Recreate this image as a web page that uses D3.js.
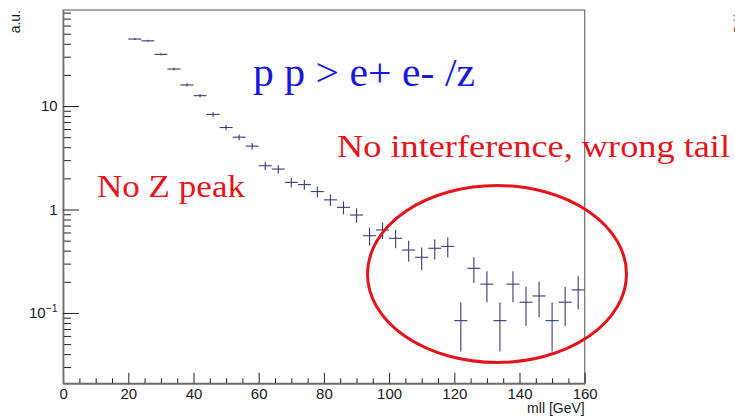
<!DOCTYPE html>
<html>
<head>
<meta charset="utf-8">
<script src="https://cdn.jsdelivr.net/npm/d3@7"></script>
<style>
  html, body { margin: 0; padding: 0; background: #fff; }
  svg { display: block; }
</style>
</head>
<body>
<svg id="chart" width="735" height="418"></svg>
<script>
// Dilepton invariant mass spectrum, 4 GeV bins from 20 to 160 GeV
const binLow = [20, 24, 28, 32, 36, 40, 44, 48, 52, 56, 60, 64, 68, 72, 76, 80, 84, 88,
                92, 96, 100, 104, 108, 112, 116, 120, 124, 128, 132, 136, 140, 144, 148, 152, 156];
const binWidth = 4;
const counts = [44.4, 42.7, 31.6, 22.8, 16.0, 12.6, 8.3, 6.2, 5.0, 4.1, 2.65, 2.46, 1.83, 1.74,
                1.49, 1.24, 1.05, 0.885, 0.558, 0.634, 0.527, 0.406, 0.345, 0.422, 0.44,
                0.0843, 0.27, 0.19, 0.0843, 0.19, 0.127, 0.146, 0.0843, 0.127, 0.167];
const errors = [0.97, 0.95, 0.81, 0.69, 0.58, 0.51, 0.42, 0.36, 0.32, 0.29, 0.24, 0.23, 0.20, 0.19,
                0.18, 0.16, 0.15, 0.14, 0.11, 0.115, 0.105, 0.092, 0.085, 0.094, 0.096,
                0.042, 0.075, 0.063, 0.042, 0.063, 0.052, 0.055, 0.042, 0.052, 0.059];

const xMajorTicks = [0, 20, 40, 60, 80, 100, 120, 140, 160];
const yMajorTicks = [0.1, 1, 10];
const yMajorLabels = ["10^-1", "1", "10"];
const yMinorTicks = [0.03, 0.04, 0.05, 0.06, 0.07, 0.08, 0.09,
                     0.2, 0.3, 0.4, 0.5, 0.6, 0.7, 0.8, 0.9,
                     2, 3, 4, 5, 6, 7, 8, 9,
                     20, 30, 40, 50, 60, 70, 80];

const xTitle = "mll [GeV]";
const yTitle = "a.u.";
const processLabel = "p p > e+ e- /z";
const noteTail = "No interference, wrong tail";
const notePeak = "No Z peak";

const svg = d3.select("#chart");
const frame = { left: 63.1, right: 584.7, top: 10, bottom: 383.3 };

const x = d3.scaleLinear().domain([0, 160]).range([frame.left, frame.right]);
const y = d3.scaleLog().domain([0.0209, 84.8]).range([frame.bottom, frame.top]);

const axisColor = "#6e6e6e";
const tickColor = "#222";
const sans = "'Liberation Sans', Arial, Helvetica, sans-serif";
const serif = "'Liberation Serif', 'Times New Roman', serif";

// frame box
svg.append("rect")
  .attr("x", frame.left).attr("y", frame.top)
  .attr("width", frame.right - frame.left).attr("height", frame.bottom - frame.top)
  .attr("fill", "none").attr("stroke", axisColor).attr("stroke-width", 1.2);

// x axis: minor ticks every 5 GeV, major every 20
const xMinor = d3.range(0, 161, 5).filter(v => v % 20 !== 0);
const gxMinor = svg.append("g").attr("transform", `translate(0,${frame.bottom})`)
  .call(d3.axisBottom(x).tickValues(xMinor).tickSizeInner(-5).tickSizeOuter(0).tickFormat(""));
const gxMajor = svg.append("g").attr("transform", `translate(0,${frame.bottom})`)
  .call(d3.axisBottom(x).tickValues(xMajorTicks).tickSizeInner(-10.5).tickSizeOuter(0)
        .tickPadding(15).tickFormat(d3.format("d")));
[gxMinor, gxMajor].forEach(g => {
  g.select(".domain").attr("stroke", axisColor).attr("stroke-width", 1.2);
  g.selectAll(".tick line").attr("stroke", tickColor).attr("stroke-width", 1);
});
gxMajor.selectAll(".tick text")
  .attr("font-family", sans).attr("font-size", 15).attr("fill", "#1a1a1a")
  .attr("dy", "0.71em").attr("y", 5.5);

// y axis: log decades with 2..9 minor ticks
const gyMinor = svg.append("g").attr("transform", `translate(${frame.left},0)`)
  .call(d3.axisLeft(y).tickValues(yMinorTicks).tickSizeInner(-8).tickSizeOuter(0).tickFormat(""));
const gyMajor = svg.append("g").attr("transform", `translate(${frame.left},0)`)
  .call(d3.axisLeft(y).tickValues(yMajorTicks).tickSizeInner(-16).tickSizeOuter(0)
        .tickPadding(5.5).tickFormat((d, i) => yMajorLabels[i]));
[gyMinor, gyMajor].forEach(g => {
  g.select(".domain").attr("stroke", axisColor).attr("stroke-width", 1.2);
  g.selectAll(".tick line").attr("stroke", tickColor).attr("stroke-width", 1);
});
gyMajor.selectAll(".tick text")
  .attr("font-family", sans).attr("font-size", 15).attr("fill", "#1a1a1a")
  .each(function (d, i) {
    const label = yMajorLabels[i];
    const t = d3.select(this);
    if (label.includes("^")) {
      const [base, exp] = label.split("^");
      t.text(null);
      t.append("tspan").text(base);
      t.append("tspan").attr("font-size", 10.5).attr("dy", "-0.55em").text(exp.replace("-", "\u2212"));
    }
  });

// axis titles
svg.append("text")
  .attr("x", frame.right).attr("y", 413)
  .attr("text-anchor", "end")
  .attr("font-family", sans).attr("font-size", 14).attr("fill", "#1a1a1a")
  .text(xTitle);
svg.append("text")
  .attr("transform", `translate(20,${frame.top}) rotate(-90)`)
  .attr("text-anchor", "end")
  .attr("font-family", sans).attr("font-size", 14).attr("fill", "#1a1a1a")
  .text(yTitle);
// neighbouring panel's y title, cut by the page edge
svg.append("text")
  .attr("transform", `translate(742,${frame.top}) rotate(-90)`)
  .attr("text-anchor", "end")
  .attr("font-family", sans).attr("font-size", 14).attr("fill", "#1a1a1a")
  .text(yTitle);

// histogram points: bin-width bars with vertical error bars
const points = binLow.map((lo, i) => ({ lo, hi: lo + binWidth, v: counts[i], e: errors[i] }));
const markColor = "#3a3a78";
const gPts = svg.append("g").attr("stroke", markColor).attr("stroke-width", 1.1).attr("fill", "none");
gPts.selectAll("line.h").data(points).join("line").attr("class", "h")
  .attr("x1", d => x(d.lo)).attr("x2", d => x(d.hi))
  .attr("y1", d => y(d.v)).attr("y2", d => y(d.v));
gPts.selectAll("line.v").data(points).join("line").attr("class", "v")
  .attr("x1", d => x((d.lo + d.hi) / 2)).attr("x2", d => x((d.lo + d.hi) / 2))
  .attr("y1", d => y(d.v + d.e)).attr("y2", d => y(Math.max(d.v - d.e, 0.0209)));

// annotations
const red = "#e5141b";
svg.append("text")
  .attr("x", 253).attr("y", 86)
  .attr("font-family", serif).attr("font-size", 40).attr("fill", "#1717e0")
  .attr("textLength", 222).attr("lengthAdjust", "spacingAndGlyphs")
  .text(processLabel);
svg.append("text")
  .attr("x", 337).attr("y", 156.5)
  .attr("font-family", serif).attr("font-size", 32).attr("fill", red)
  .attr("textLength", 393).attr("lengthAdjust", "spacingAndGlyphs")
  .text(noteTail);
svg.append("text")
  .attr("x", 97).attr("y", 196.5)
  .attr("font-family", serif).attr("font-size", 32).attr("fill", red)
  .attr("textLength", 148).attr("lengthAdjust", "spacingAndGlyphs")
  .text(notePeak);

// highlight ring around the high-mass tail
svg.append("ellipse")
  .attr("cx", 497).attr("cy", 274).attr("rx", 129.5).attr("ry", 88.5)
  .attr("fill", "none").attr("stroke", red).attr("stroke-width", 3);
</script>
</body>
</html>
